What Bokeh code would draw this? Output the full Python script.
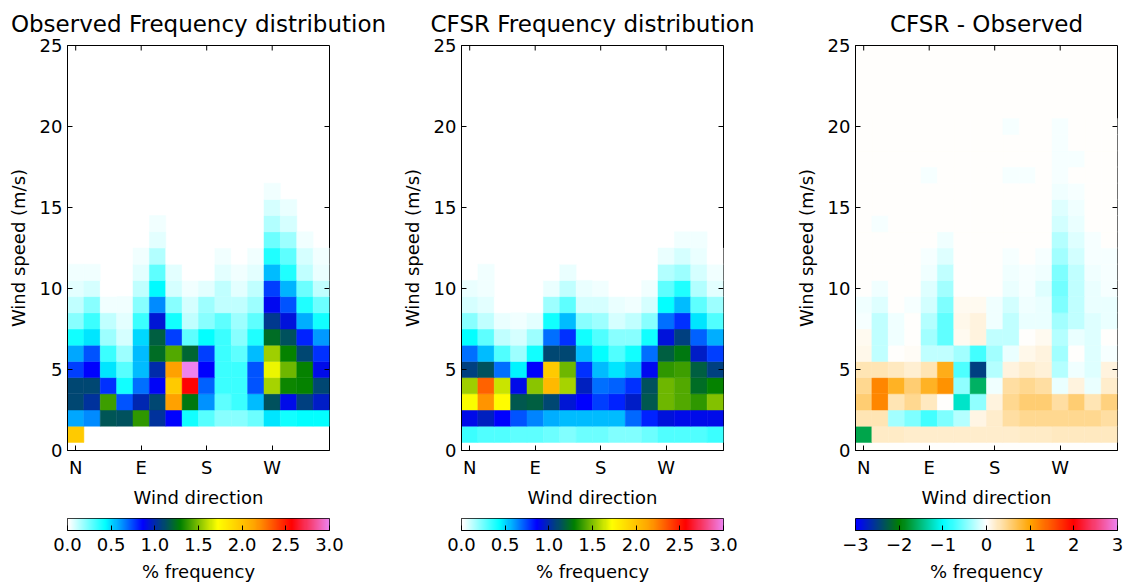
import numpy as np
from bokeh.plotting import figure
from bokeh.models import LinearColorMapper, FixedTicker, Range1d, ColumnDataSource
from bokeh.transform import transform
from bokeh.layouts import row, column
from bokeh.embed import file_html
from bokeh.resources import INLINE

# ---------------- data ----------------
directions = [0, 22.5, 45, 67.5, 90, 112.5, 135, 157.5, 180, 202.5, 225, 247.5, 270, 292.5, 315, 337.5]
dir_ticks = [0, 90, 180, 270]
dir_labels = ["N", "E", "S", "W"]
speed_ticks = [0, 5, 10, 15, 20, 25]

# Observed % frequency, rows = wind speed 1,2,3,... m/s ; columns = 16 directions
obs_rows = [
    [1.96, 0, 0, 0, 0, 0, 0, 0, 0, 0, 0, 0, 0, 0, 0, 0],
    [0.575, 0.63, 1.14, 1.13, 1.36, 1.02, 0.86, 0.41, 0.29, 0.2, 0.2, 0.25, 0.47, 0.4, 0.43, 0.43],
    [1.10, 1.03, 1.39, 0.72, 0.99, 1.10, 2.15, 1.26, 0.62, 0.27, 0.33, 0.54, 1.13, 0.90, 1.07, 0.96],
    [1.10, 1.10, 0.78, 0.40, 0.67, 0.87, 1.96, 2.57, 0.70, 0.33, 0.33, 0.72, 1.56, 1.31, 1.30, 1.10],
    [0.75, 0.86, 0.47, 0.29, 0.55, 1.00, 2.15, 3.00, 0.86, 0.33, 0.33, 0.72, 1.68, 1.47, 1.30, 0.90],
    [0.58, 0.72, 0.33, 0.17, 0.55, 1.23, 1.42, 1.20, 0.75, 0.33, 0.27, 0.55, 1.55, 1.29, 1.10, 0.78],
    [0.40, 0.47, 0.17, 0.08, 0.50, 1.18, 0.75, 0.27, 0.43, 0.33, 0.20, 0.38, 1.22, 1.13, 0.80, 0.60],
    [0.20, 0.33, 0.11, 0.05, 0.33, 0.93, 0.40, 0.11, 0.21, 0.27, 0.17, 0.27, 1.05, 0.92, 0.57, 0.40],
    [0.11, 0.20, 0.03, 0.03, 0.20, 0.63, 0.20, 0.08, 0.17, 0.11, 0.11, 0.17, 0.88, 0.72, 0.38, 0.25],
    [0.05, 0.08, 0.01, 0, 0.11, 0.44, 0.08, 0.03, 0.05, 0.11, 0.05, 0.11, 0.75, 0.56, 0.25, 0.11],
    [0.03, 0.03, 0, 0, 0.05, 0.27, 0.05, 0.01, 0.01, 0.05, 0.03, 0.05, 0.54, 0.38, 0.11, 0.04],
    [0, 0, 0, 0, 0.03, 0.14, 0.01, 0, 0, 0.03, 0.01, 0.03, 0.38, 0.27, 0.08, 0.03],
    [0, 0, 0, 0, 0, 0.05, 0, 0, 0, 0.01, 0, 0.01, 0.25, 0.17, 0.03, 0],
    [0, 0, 0, 0, 0, 0.03, 0, 0, 0, 0, 0, 0, 0.14, 0.08, 0, 0],
    [0, 0, 0, 0, 0, 0, 0, 0, 0, 0, 0, 0, 0.08, 0.04, 0, 0],
    [0, 0, 0, 0, 0, 0, 0, 0, 0, 0, 0, 0, 0.03, 0, 0, 0],
]

# CFSR % frequency
cfsr_rows = [
    [0.33, 0.30, 0.30, 0.27, 0.27, 0.25, 0.22, 0.25, 0.25, 0.22, 0.22, 0.25, 0.30, 0.30, 0.30, 0.33],
    [0.90, 0.97, 0.86, 0.72, 0.64, 0.57, 0.54, 0.54, 0.54, 0.55, 0.68, 0.80, 0.92, 0.90, 0.90, 0.90],
    [1.71, 2.18, 1.73, 1.16, 1.18, 1.10, 0.93, 0.86, 0.75, 0.80, 0.95, 1.16, 1.47, 1.42, 1.37, 1.50],
    [1.55, 2.32, 1.62, 0.90, 1.52, 2.05, 1.56, 0.97, 0.67, 0.70, 0.78, 1.13, 1.47, 1.42, 1.22, 1.30],
    [1.07, 1.13, 0.67, 0.45, 0.86, 1.96, 1.47, 0.78, 0.54, 0.48, 0.54, 0.88, 1.37, 1.39, 1.18, 1.07],
    [0.67, 0.55, 0.30, 0.17, 0.40, 1.10, 1.10, 0.54, 0.43, 0.30, 0.40, 0.67, 1.18, 1.26, 0.95, 0.75],
    [0.43, 0.27, 0.11, 0.08, 0.17, 0.67, 0.78, 0.40, 0.30, 0.20, 0.20, 0.40, 0.92, 1.07, 0.70, 0.57],
    [0.20, 0.11, 0.04, 0.03, 0.05, 0.40, 0.54, 0.20, 0.17, 0.08, 0.11, 0.20, 0.67, 0.78, 0.47, 0.30],
    [0.08, 0.05, 0.01, 0, 0.01, 0.17, 0.27, 0.08, 0.08, 0.04, 0.03, 0.08, 0.43, 0.54, 0.27, 0.17],
    [0.04, 0.03, 0, 0, 0, 0.04, 0.11, 0.04, 0.03, 0.01, 0.01, 0.03, 0.27, 0.38, 0.14, 0.05],
    [0, 0.03, 0, 0, 0, 0.01, 0.04, 0, 0.01, 0, 0, 0, 0.14, 0.17, 0.08, 0.03],
    [0, 0, 0, 0, 0, 0, 0.01, 0, 0, 0, 0, 0, 0.04, 0.08, 0.04, 0.01],
    [0, 0, 0, 0, 0, 0, 0, 0, 0, 0, 0, 0, 0, 0.03, 0.03, 0],
]

# CFSR - Observed
diff_rows = [
    [-1.7, 0.22, 0.22, 0.2, 0.2, 0.2, 0.2, 0.2, 0.2, 0.2, 0.22, 0.22, 0.25, 0.25, 0.25, 0.25],
    [0.30, 0.30, -0.37, -0.5, -0.75, -0.5, -0.3, 0.10, 0.20, 0.37, 0.43, 0.43, 0.43, 0.43, 0.43, 0.37],
    [0.55, 1.18, 0.30, 0.43, 0.25, 0.01, -1.2, -0.43, 0.12, 0.43, 0.55, 0.55, 0.37, 0.55, 0.30, 0.50],
    [0.43, 1.18, 0.85, 0.55, 0.85, 1.12, -0.43, -1.6, -0.06, 0.37, 0.43, 0.37, -0.09, 0.12, -0.09, 0.20],
    [0.30, 0.30, 0.25, 0.18, 0.30, 0.90, -0.69, -2.5, -0.30, 0.12, 0.20, 0.15, -0.30, -0.06, -0.12, 0.12],
    [0.08, -0.25, 0.0, 0.04, -0.25, -0.25, -0.37, -0.75, -0.37, -0.09, 0.08, 0.12, -0.37, 0.0, -0.12, -0.04],
    [0.05, -0.25, -0.06, 0.0, -0.37, -0.62, 0.05, 0.12, -0.25, -0.25, 0.0, 0.05, -0.30, -0.09, -0.12, 0.0],
    [-0.03, -0.25, -0.06, 0.0, -0.30, -0.62, 0.08, 0.12, -0.06, -0.25, -0.09, -0.09, -0.37, -0.25, -0.12, -0.09],
    [-0.06, -0.12, 0.0, -0.04, -0.18, -0.5, 0.05, 0.05, -0.06, -0.18, -0.06, -0.09, -0.5, -0.25, -0.09, -0.09],
    [0.0, -0.06, 0.0, 0.0, -0.12, -0.37, 0.02, 0.0, 0.0, -0.09, -0.04, -0.12, -0.56, -0.25, -0.09, -0.04],
    [0, 0, 0, 0, -0.06, -0.25, 0, 0, 0, -0.06, -0.03, -0.06, -0.5, -0.25, -0.06, -0.03],
    [0, 0, 0, 0, -0.04, -0.12, 0, 0, 0, -0.04, 0, -0.03, -0.37, -0.18, -0.04, -0.03],
    [0, 0, 0, 0, 0, -0.06, 0, 0, 0, 0, 0, 0, -0.30, -0.12, -0.03, 0],
    [0, -0.03, 0, 0, 0, 0, 0, 0, 0, 0, 0, 0, -0.18, -0.09, 0, 0],
    [0, 0, 0, 0, 0, 0, 0, 0, 0, 0, 0, 0, -0.12, -0.06, 0, 0],
    [0, 0, 0, 0, 0, 0, 0, 0, 0, 0, 0, 0, -0.06, -0.03, 0, 0],
    [0, 0, 0, 0, -0.03, 0, 0, 0, 0, -0.03, -0.03, 0, -0.04, 0, 0, 0],
    [0, 0, 0, 0, 0, 0, 0, 0, 0, 0, 0, 0, -0.03, -0.03, 0, 0],
    [0, 0, 0, 0, 0, 0, 0, 0, 0, 0, 0, 0, -0.03, 0, 0, 0],
    [0, 0, 0, 0, 0, 0, 0, 0, 0, -0.04, 0, 0, -0.03, 0, 0, 0],
]

freq_ticks = [0.0, 0.5, 1.0, 1.5, 2.0, 2.5, 3.0]
freq_labels = ["0.0", "0.5", "1.0", "1.5", "2.0", "2.5", "3.0"]
diff_ticks = [-3, -2, -1, 0, 1, 2, 3]
diff_labels = ["\u22123", "\u22122", "\u22121", "0", "1", "2", "3"]

freq_colors = ["#ffffff", "#00ffff", "#0000ff", "#008000", "#ffff00", "#ffa500", "#ff0000", "#ee82ee"]
diff_colors = ["#0000ff", "#008000", "#00ffff", "#ffffff", "#ffa500", "#ff0000", "#ee82ee"]

FONT = "DejaVu Sans"
X_LO, X_HI = -11.25, 348.75
Y_LO, Y_HI = 0, 25


def make_palette(colors, n=256):
    rgb = np.array([[int(c[i:i + 2], 16) for i in (1, 3, 5)] for c in colors], float)
    pos = np.linspace(0, 1, len(colors))
    out = []
    for i in range(n):
        t = i / (n - 1)
        r, g, b = (np.interp(t, pos, rgb[:, k]) for k in range(3))
        out.append("#%02x%02x%02x" % (int(round(r)), int(round(g)), int(round(b))))
    return out


freq_pal = make_palette(freq_colors)
diff_pal = make_palette(diff_colors)
freq_mapper = LinearColorMapper(palette=freq_pal, low=0, high=3)
diff_mapper = LinearColorMapper(palette=diff_pal, low=-3, high=3)


def style_axis(ax, size="18px"):
    ax.major_label_text_font = FONT
    ax.major_label_text_font_size = size
    ax.axis_label_text_font = FONT
    ax.axis_label_text_font_size = size
    ax.axis_label_text_font_style = "normal"
    ax.axis_line_color = "black"
    ax.major_tick_in = 5
    ax.major_tick_out = 0
    ax.minor_tick_line_color = None
    ax.major_label_text_color = "black"
    ax.axis_label_text_color = "black"


def heat_fig(title, rows, mapper, width, border_right, bg, skip_zero):
    p = figure(width=width, height=510, x_range=Range1d(X_LO, X_HI), y_range=Range1d(Y_LO, Y_HI),
               output_backend="svg", toolbar_location=None, title=title,
               min_border_left=67, min_border_right=border_right, min_border_top=45, min_border_bottom=55)
    xs, ys, vs = [], [], []
    for si, r in enumerate(rows):
        for di, v in enumerate(r):
            if skip_zero and v == 0:
                continue
            xs.append(directions[di])
            ys.append(si + 1)
            vs.append(v)
    src = ColumnDataSource(dict(x=xs, y=ys, v=vs))
    p.rect("x", "y", width=22.5, height=1, source=src,
           fill_color=transform("v", mapper), line_color=transform("v", mapper), line_width=0.5)
    # mirrored inward ticks on top and right frame edges
    p.ray(x=dir_ticks, y=[Y_HI] * len(dir_ticks), length=5, length_units="screen",
          angle=-np.pi / 2, line_color="black", line_width=1)
    p.ray(x=[X_HI] * len(speed_ticks), y=speed_ticks, length=5, length_units="screen",
          angle=np.pi, line_color="black", line_width=1)
    p.background_fill_color = bg
    p.border_fill_color = "white"
    p.grid.visible = False
    p.outline_line_color = "black"
    p.outline_line_width = 1
    p.title.align = "center"
    p.title.text_font = FONT
    p.title.text_font_size = "23px"
    p.title.text_font_style = "normal"
    p.title.text_color = "black"
    p.title.text_line_height = 0.8
    p.title.standoff = 17
    p.xaxis.ticker = FixedTicker(ticks=dir_ticks)
    p.xaxis.major_label_overrides = dict(zip(dir_ticks, dir_labels))
    p.xaxis.axis_label = "Wind direction"
    p.xaxis.major_label_standoff = 6
    p.xaxis.axis_label_standoff = 6
    p.yaxis.ticker = FixedTicker(ticks=speed_ticks)
    p.yaxis.axis_label = "Wind speed (m/s)"
    p.yaxis.major_label_standoff = 5
    p.yaxis.axis_label_standoff = 8
    style_axis(p.xaxis[0])
    style_axis(p.yaxis[0])
    return p


def cbar_fig(mapper, low, high, ticks, labels, width, border_right):
    c = figure(width=width, height=78, x_range=Range1d(low, high), y_range=Range1d(0, 1),
               output_backend="svg", toolbar_location=None,
               min_border_left=67, min_border_right=border_right, min_border_top=8, min_border_bottom=58)
    c.image(image=[np.linspace(low, high, 524).reshape(1, -1)], x=low, y=0, dw=high - low, dh=1,
            color_mapper=mapper)
    c.yaxis.visible = False
    c.grid.visible = False
    c.outline_line_color = "black"
    c.outline_line_width = 1
    c.xaxis.ticker = FixedTicker(ticks=ticks)
    c.xaxis.major_label_overrides = dict(zip(ticks, labels))
    c.xaxis.axis_label = "% frequency"
    c.xaxis.major_label_standoff = 7
    c.xaxis.axis_label_standoff = 7
    style_axis(c.xaxis[0])
    return c


p1 = heat_fig("Observed Frequency distribution", obs_rows, freq_mapper, 394, 65, "white", True)
p2 = heat_fig("CFSR Frequency distribution", cfsr_rows, freq_mapper, 394, 65, "white", True)
p3 = heat_fig("CFSR - Observed", diff_rows, diff_mapper, 344, 15, diff_pal[128], False)

c1 = cbar_fig(freq_mapper, 0, 3, freq_ticks, freq_labels, 394, 65)
c2 = cbar_fig(freq_mapper, 0, 3, freq_ticks, freq_labels, 394, 65)
c3 = cbar_fig(diff_mapper, -3, 3, diff_ticks, diff_labels, 344, 15)

layout = row(column(p1, c1), column(p2, c2), column(p3, c3))

open("out.html", "w").write(file_html(layout, INLINE))
